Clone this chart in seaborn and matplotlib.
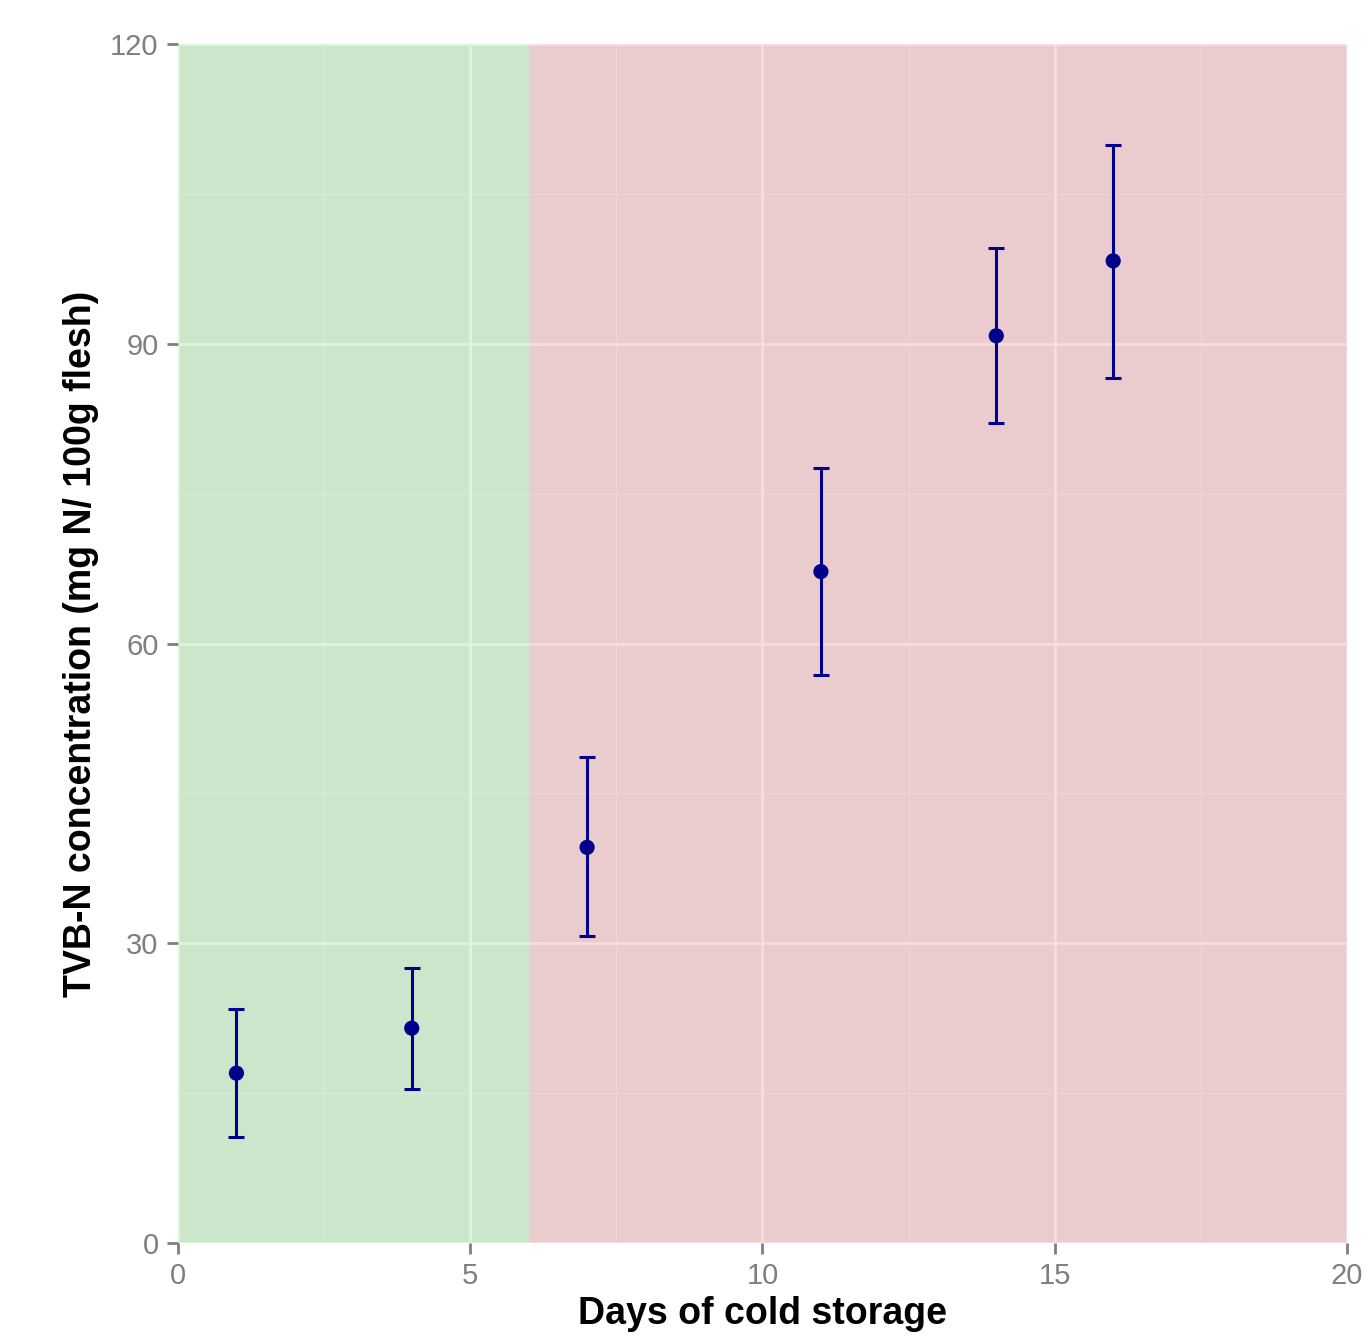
import matplotlib
matplotlib.use("Agg")
import matplotlib.pyplot as plt
import seaborn as sns
import pandas as pd
from matplotlib.ticker import MultipleLocator

days = [1, 4, 7, 11, 14, 16]
tvbn = [17.0, 21.5, 39.6, 67.2, 90.8, 98.3]
lower = [10.6, 15.4, 30.7, 56.8, 82.1, 86.6]
upper = [23.4, 27.5, 48.6, 77.6, 99.6, 109.9]
fresh_range = [0, 6]
spoiled_range = [6, 20]

df = pd.DataFrame({"day": days, "tvbn": tvbn, "lo": lower, "hi": upper})

sns.set_theme(style="darkgrid")
plt.rcParams['font.family'] = ['Liberation Sans', 'DejaVu Sans']

fig = plt.figure(figsize=(13.7, 13.39), dpi=100)
ax = fig.add_axes([0.1299, 0.0717, 0.8533, 0.8954])
ax.set_facecolor("#ebebeb")
ax.grid(which="major", color="white", linewidth=2.0, zorder=0)
ax.grid(which="minor", color="white", linewidth=1.0, alpha=0.5, zorder=0)
ax.set_axisbelow(True)
for s in ax.spines.values():
    s.set_visible(False)

ax.axvspan(*fresh_range, color=(90/255, 215/255, 90/255), alpha=0.21, lw=0, zorder=1)
ax.axvspan(*spoiled_range, color=(230/255, 80/255, 95/255), alpha=0.2, lw=0, zorder=1)

ax.errorbar(df["day"], df["tvbn"], yerr=[df["tvbn"] - df["lo"], df["hi"] - df["tvbn"]],
            fmt="none", ecolor="#00008b", elinewidth=2.2, capsize=6, capthick=2.2, zorder=3)
sns.scatterplot(data=df, x="day", y="tvbn", ax=ax, color="#00008b", s=120,
                edgecolor="none", zorder=4)

ax.set_xlim(0, 20)
ax.set_ylim(0, 120)
ax.xaxis.set_major_locator(MultipleLocator(5))
ax.xaxis.set_minor_locator(MultipleLocator(2.5))
ax.yaxis.set_major_locator(MultipleLocator(30))
ax.yaxis.set_minor_locator(MultipleLocator(15))
ax.tick_params(which="major", length=8, width=2, color="#7f7f7f", labelcolor="#7f7f7f",
               labelsize=21, bottom=True, left=True)
ax.tick_params(axis="x", which="major", pad=6)
ax.tick_params(axis="y", which="major", pad=6)
ax.tick_params(which="minor", length=0)
ax.set_xlabel("Days of cold storage", fontsize=27, fontweight="bold", color="black", labelpad=4)
ax.set_ylabel("TVB-N concentration (mg N/ 100g flesh)", fontsize=27, fontweight="bold",
              color="black", labelpad=8)

fig.savefig("out.png", dpi=100)
